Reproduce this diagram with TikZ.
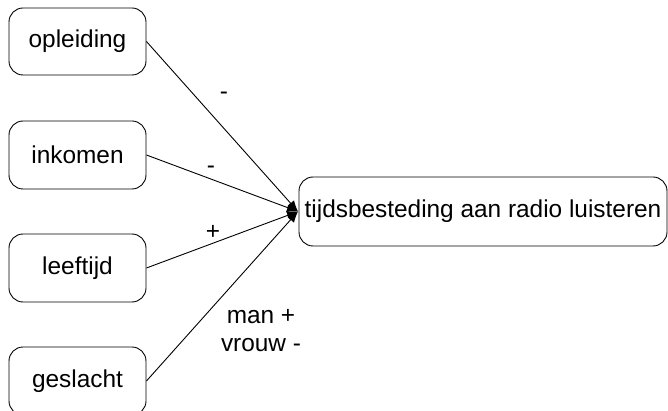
\documentclass[tikz,border=0pt]{standalone}
\usepackage{fontspec}
\setmainfont{Liberation Sans}
\usetikzlibrary{arrows.meta}
\begin{document}
\begin{tikzpicture}[x=1pt,y=-1pt,
  box/.style={draw=black,line width=0.9pt,rounded corners=14pt,fill=white,inner sep=0pt,
    font=\fontsize{24.4}{28}\selectfont},
  lbl/.style={font=\fontsize{24.4}{28}\selectfont,inner sep=0pt},
  conn/.style={line width=0.9pt,-{Latex[length=11pt,width=9pt]}}]
\clip (0,0) rectangle (668,411);
\fill[white] (0,0) rectangle (668,411);
\node[box,minimum width=137pt,minimum height=67pt] (opl) at (77.5,41.5) {opleiding};
\node[box,minimum width=137pt,minimum height=68pt] (ink) at (77.5,155) {inkomen};
\node[box,minimum width=137pt,minimum height=68pt] (lft) at (77.5,268) {leeftijd};
\node[box,minimum width=137pt,minimum height=68pt] (ges) at (77.5,381) {geslacht};
\node[box,minimum width=368pt,minimum height=69pt] (tijd) at (483,211.5) {tijdsbesteding aan radio luisteren};
\coordinate (tip) at (298,211.5);
\draw[conn] (opl.east) -- (tip);
\draw[conn] (ink.east) -- (tip);
\draw[conn] (lft.east) -- (tip);
\draw[conn] (ges.east) -- (tip);
\node[lbl] (l1) at (224,96) {-};
\node[lbl] (l2) at (211,170) {-};
\node[lbl] (l3) at (213,232) {+};
\node[lbl,align=center] (l4) at (261,331) {man +\\vrouw -};
\end{tikzpicture}
\end{document}
